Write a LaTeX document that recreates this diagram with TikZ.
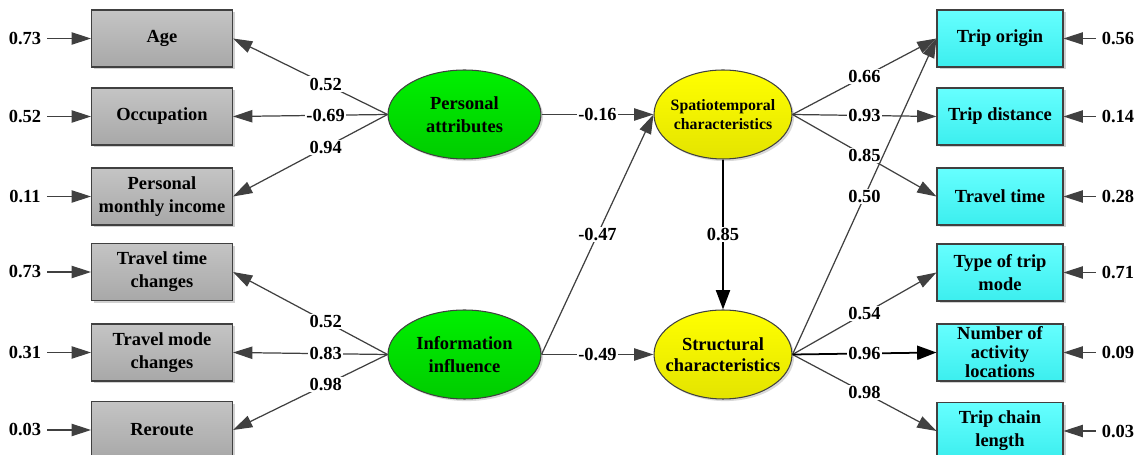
\documentclass[tikz,border=0pt]{standalone}
\usepackage{fontspec}
\setmainfont{Liberation Serif}
\usetikzlibrary{shapes.geometric,shadows,arrows.meta}

\definecolor{edgegray}{HTML}{404040}
\definecolor{graytop}{HTML}{C4C4C4}
\definecolor{graybot}{HTML}{A8A8A8}
\definecolor{cyantop}{HTML}{66FFFF}
\definecolor{cyanbot}{HTML}{3CEEEE}
\definecolor{greentop}{HTML}{00F000}
\definecolor{greenbot}{HTML}{00CC00}
\definecolor{yellowtop}{HTML}{FFFF00}
\definecolor{yellowbot}{HTML}{E4E400}

\tikzset{
  obs/.style={rectangle, draw=edgegray, line width=0.6pt, minimum width=2.82cm,
    minimum height=1.14cm, inner sep=1pt, align=center,
    font=\fontsize{10.5}{13}\selectfont\bfseries,
    drop shadow={shadow xshift=1.6pt, shadow yshift=-1.2pt, fill=black!18, opacity=1}},
  inobs/.style={obs, top color=graytop, bottom color=graybot},
  outobs/.style={obs, minimum width=2.52cm, top color=cyantop, bottom color=cyanbot},
  latent/.style={ellipse, draw=edgegray, line width=0.6pt, minimum width=3.06cm,
    minimum height=1.78cm, inner sep=0pt, align=center,
    font=\fontsize{10.5}{13}\selectfont\bfseries,
    drop shadow={shadow xshift=1.2pt, shadow yshift=-1.2pt, fill=black!15, opacity=1}},
  exo/.style={latent, top color=greentop, bottom color=greenbot},
  endo/.style={latent, minimum width=2.76cm, inner xsep=-8pt, top color=yellowtop, bottom color=yellowbot},
  err/.style={font=\fontsize{10.5}{13}\selectfont\bfseries},
  lbl/.style={fill=white, inner sep=0.8pt, font=\fontsize{10.5}{13}\selectfont\bfseries},
  conn/.style={draw=edgegray, line width=0.7pt, -{Triangle[length=11pt,width=7pt]}},
  strong/.style={draw=black, line width=1pt, -{Triangle[length=11pt,width=8pt]}}
}

\begin{document}
\begin{tikzpicture}[x=0.02cm, y=-0.02cm]
        \useasboundingbox (0,0) rectangle (1140,455);
        % indicators on the left
        \draw (162,38.5)  node[inobs] (age) {Age};
        \draw (162,116.5) node[inobs] (occ) {Occupation};
        \draw (162,196.5) node[inobs] (inc) {Personal\\monthly income};
        \draw (162,272)   node[inobs] (ttc) {Travel time\\changes};
        \draw (162,352.5) node[inobs] (tmc) {Travel mode\\changes};
        \draw (162,430)   node[inobs] (rer) {Reroute};
        % latent variables
        \draw (464.5,114.5) node[exo] (pa) {Personal\\attributes};
        \draw (464.5,354.5) node[exo] (ii) {Information\\influence};
        \draw (723,114.5) node[endo, font=\fontsize{9}{10.5}\selectfont\bfseries] (st) {Spatiotemporal\\characteristics};
        \draw (723,354.5) node[endo, font=\fontsize{10.5}{12}\selectfont\bfseries] (sc) {Structural\\characteristics};
        % indicators on the right
        \draw (1000,38.5)  node[outobs] (org) {Trip origin};
        \draw (1000,116.5) node[outobs] (dis) {Trip distance};
        \draw (1000,196.5) node[outobs] (tvt) {Travel time};
        \draw (1000,272.5) node[outobs] (mod) {Type of trip\\mode};
        \draw (1000,352.5) node[outobs, font=\fontsize{10.5}{10.8}\selectfont\bfseries] (loc) {Number of\\activity\\locations};
        \draw (1000,431)   node[outobs] (len) {Trip chain\\length};
        % error terms
        \node[err] (e1) at (25,38.5)  {0.73};
        \node[err] (e2) at (25,116.5) {0.52};
        \node[err] (e3) at (25,196.5) {0.11};
        \node[err] (e4) at (25,272)   {0.73};
        \node[err] (e5) at (25,352.5) {0.31};
        \node[err] (e6) at (25,430)   {0.03};
        \node[err] (r1) at (1118,38.5)  {0.56};
        \node[err] (r2) at (1118,116.5) {0.14};
        \node[err] (r3) at (1118,196.5) {0.28};
        \node[err] (r4) at (1118,272.5) {0.71};
        \node[err] (r5) at (1118,352.5) {0.09};
        \node[err] (r6) at (1118,431)   {0.03};
        \path (e1) edge[conn] (age.west)
              (e2) edge[conn] (occ.west)
              (e3) edge[conn] (inc.west)
              (e4) edge[conn] (ttc.west)
              (e5) edge[conn] (tmc.west)
              (e6) edge[conn] (rer.west)
              (r1) edge[conn] (org.east)
              (r2) edge[conn] (dis.east)
              (r3) edge[conn] (tvt.east)
              (r4) edge[conn] (mod.east)
              (r5) edge[conn] (loc.east)
              (r6) edge[conn] (len.east);
        % loadings and paths
        \path (pa.west) edge[conn] node[lbl, pos=0.4] {0.52} (age.east)
              (pa.west) edge[conn] node[lbl, pos=0.4] {-0.69} (occ.east)
              (pa.west) edge[conn] node[lbl, pos=0.4] {0.94} (inc.east)
              (ii.west) edge[conn] node[lbl, pos=0.4] {0.52} (ttc.east)
              (ii.west) edge[conn] node[lbl, pos=0.4] {0.83} (tmc.east)
              (ii.west) edge[conn] node[lbl, pos=0.4] {0.98} (rer.east)
              (pa.east) edge[conn] node[lbl] {-0.16} (st.west)
              (ii.east) edge[conn] node[lbl] {-0.47} (st.west)
              (ii.east) edge[conn] node[lbl] {-0.49} (sc.west)
              (st.east) edge[conn] node[lbl] {0.66} (org.west)
              (st.east) edge[conn] node[lbl] {0.93} (dis.west)
              (st.east) edge[conn] node[lbl] {0.85} (tvt.west)
              (sc.east) edge[conn] node[lbl] {0.50} (org.west)
              (sc.east) edge[conn] node[lbl] {0.54} (mod.west)
              (sc.east) edge[conn] node[lbl] {0.98} (len.west)
              (st.south) edge[strong] node[lbl] {0.85} (sc.north)
              (sc.east) edge[strong] node[lbl] {0.96} (loc.west);
    \end{tikzpicture}
\end{document}
